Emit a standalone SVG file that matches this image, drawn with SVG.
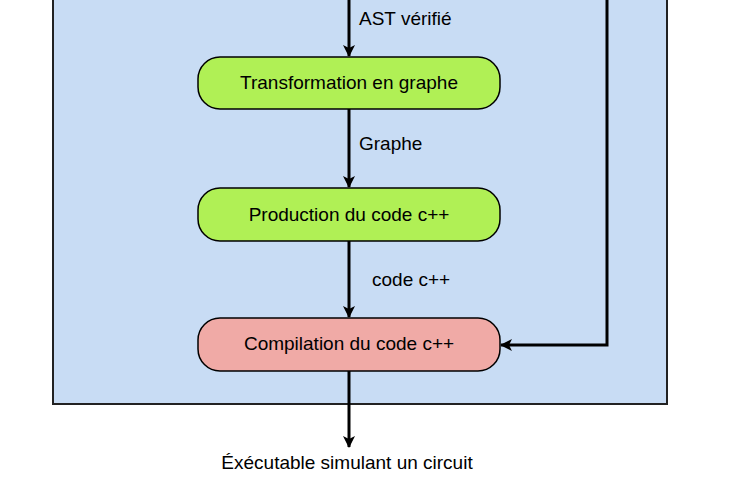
<svg xmlns="http://www.w3.org/2000/svg" width="735" height="496" viewBox="0 0 735 496">
<style>
.node{stroke:#000;stroke-width:1.5}
.green{fill:#b0f055}
.red{fill:#f0aaa6}
.t{font-family:"Liberation Sans",Arial,sans-serif;font-size:19px;fill:#000}
.nt{text-anchor:middle}
.edge{fill:none;stroke:#000;stroke-width:3}
</style>
<defs>
<marker id="arr" viewBox="0 0 12 12" refX="11" refY="6" markerWidth="12" markerHeight="12" markerUnits="userSpaceOnUse" orient="auto">
<path d="M0,0 L12,6 L0,12 L3,6 Z" fill="#000"/>
</marker>
</defs>
<rect id="container" x="53" y="-10" width="614" height="414" fill="#c8dcf4" stroke="#222" stroke-width="2"/>
<g id="connectors">
<path class="edge" d="M349,0 V56" marker-end="url(#arr)"/>
<path class="edge" d="M349,109 V187" marker-end="url(#arr)"/>
<path class="edge" d="M349,241 V317" marker-end="url(#arr)"/>
<path class="edge" d="M349,371 V447" marker-end="url(#arr)"/>
<path class="edge" d="M607,0 V345 H501" marker-end="url(#arr)"/>
<text class="t" x="359" y="25">AST vérifié</text>
<text class="t" x="359" y="150">Graphe</text>
<text class="t" x="372" y="286">code c++</text>
</g>
<g id="n1">
<rect class="node green" x="198" y="57" width="302" height="52" rx="22"/>
<text class="t nt" x="349" y="89">Transformation en graphe</text>
</g>
<g id="n2">
<rect class="node green" x="198" y="188" width="302" height="53" rx="22"/>
<text class="t nt" x="349" y="221">Production du code c++</text>
</g>
<g id="n3">
<rect class="node red" x="198" y="318" width="302" height="53" rx="22"/>
<text class="t nt" x="349" y="350">Compilation du code c++</text>
</g>
<g id="out">
<text class="t nt" x="347" y="469">Éxécutable simulant un circuit</text>
</g>
</svg>
